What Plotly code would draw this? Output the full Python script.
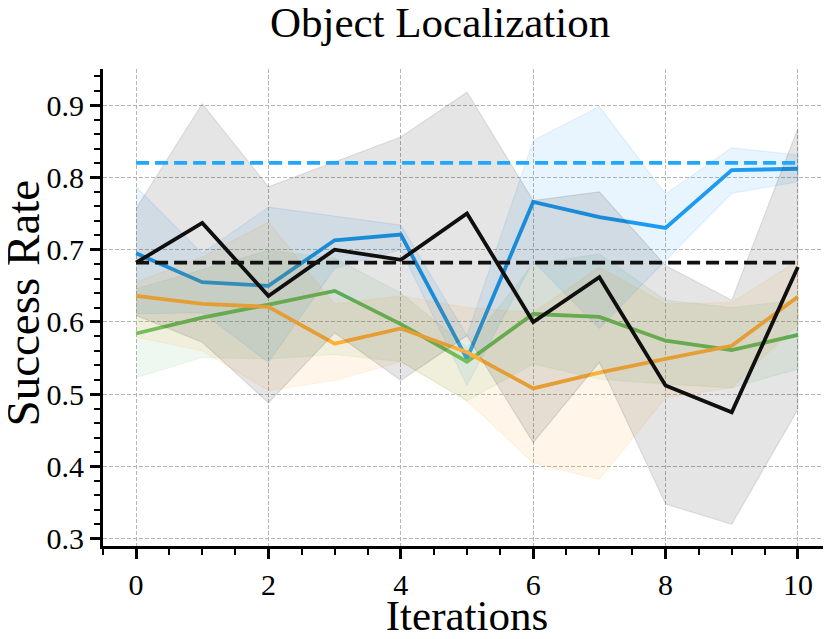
import plotly.graph_objects as go

iterations = list(range(11))

blue_mean = [0.695, 0.655, 0.650, 0.713, 0.721, 0.549, 0.766, 0.745, 0.730, 0.810, 0.812]
blue_upper = [0.787, 0.695, 0.759, 0.747, 0.734, 0.581, 0.851, 0.898, 0.777, 0.841, 0.831]
blue_lower = [0.611, 0.613, 0.544, 0.674, 0.700, 0.512, 0.684, 0.591, 0.685, 0.778, 0.794]

green_mean = [0.584, 0.606, 0.624, 0.643, 0.597, 0.545, 0.611, 0.607, 0.574, 0.561, 0.582]
green_upper = [0.646, 0.672, 0.699, 0.688, 0.640, 0.565, 0.680, 0.694, 0.630, 0.620, 0.630]
green_lower = [0.523, 0.551, 0.549, 0.555, 0.545, 0.491, 0.542, 0.521, 0.514, 0.509, 0.535]

orange_mean = [0.636, 0.625, 0.621, 0.570, 0.591, 0.558, 0.508, 0.530, 0.549, 0.567, 0.635]
orange_upper = [0.655, 0.690, 0.738, 0.625, 0.636, 0.620, 0.613, 0.676, 0.625, 0.627, 0.685]
orange_lower = [0.579, 0.560, 0.505, 0.519, 0.545, 0.491, 0.405, 0.382, 0.495, 0.509, 0.597]

black_mean = [0.682, 0.737, 0.636, 0.700, 0.686, 0.750, 0.600, 0.662, 0.512, 0.475, 0.676]
black_upper = [0.757, 0.902, 0.787, 0.822, 0.856, 0.918, 0.768, 0.780, 0.678, 0.630, 0.868]
black_lower = [0.609, 0.572, 0.488, 0.585, 0.519, 0.581, 0.433, 0.544, 0.348, 0.320, 0.479]

blue_reference = 0.820
black_reference = 0.682

x_ticks = [0, 2, 4, 6, 8, 10]
y_ticks = [0.3, 0.4, 0.5, 0.6, 0.7, 0.8, 0.9]

series = [
    ("blue", blue_mean, blue_lower, blue_upper, "#1E9CF0", (33, 150, 243)),
    ("green", green_mean, green_lower, green_upper, "#66C25E", (102, 187, 106)),
    ("orange", orange_mean, orange_lower, orange_upper, "#FFB23E", (255, 167, 38)),
    ("black", black_mean, black_lower, black_upper, "#111111", (0, 0, 0)),
]

fig = go.Figure()
for name, mean, lo, hi, col, rgb in series:
    fig.add_trace(go.Scatter(x=iterations, y=mean, mode="lines",
                             line=dict(color=col, width=3.8), name=name))
    rgba = "rgba(%d,%d,%d,0.1)" % rgb
    fig.add_trace(go.Scatter(x=iterations + iterations[::-1], y=hi + lo[::-1],
                             mode="lines", fill="toself", fillcolor=rgba,
                             line=dict(color=rgba, width=1.2), hoverinfo="skip"))

fig.add_trace(go.Scatter(x=[iterations[0], iterations[-1]], y=[blue_reference] * 2, mode="lines",
                         line=dict(color="#22A7FF", width=3.8, dash="13px,6px")))
fig.add_trace(go.Scatter(x=[iterations[0], iterations[-1]], y=[black_reference] * 2, mode="lines",
                         line=dict(color="#111111", width=3.8, dash="13px,6px")))

font = "Liberation Serif"
# the page body adds an 8px offset, so the figure is sized to the visible area
W, H = 823, 631
fig.update_layout(
    width=W, height=H,
    margin=dict(l=95, r=0, t=61, b=93),
    plot_bgcolor="white", paper_bgcolor="white",
    showlegend=False,
    font=dict(family=font, color="black"),
    title=dict(text="Object Localization", font=dict(size=43, family=font, color="black"),
               x=0.525, xanchor="center", xref="container",
               y=1 - 14 / H, yref="container", yanchor="middle"),
    annotations=[dict(text="Success Rate", textangle=-90, xref="paper", yref="paper",
                      x=0, y=0.5, xanchor="center", yanchor="middle", xshift=-81, yshift=4,
                      showarrow=False, font=dict(size=47, family=font, color="black"))],
)
common = dict(showline=True, linewidth=3, linecolor="black", ticks="outside",
              ticklen=10, tickwidth=3, tickcolor="black", zeroline=False, automargin=False,
              showgrid=True, gridcolor="#b4b4b4", gridwidth=1, griddash="4px,2px",
              tickfont=dict(size=30, family=font, color="black"))
fig.update_xaxes(range=[-0.5, 10.5], tickvals=x_ticks,
                 minor=dict(dtick=0.5, tick0=0, ticklen=6, tickwidth=2, ticks="outside",
                            tickcolor="black", showgrid=False),
                 title=dict(text="Iterations", font=dict(size=43, family=font), standoff=4),
                 **common)
fig.update_yaxes(range=[0.29, 0.95], tickvals=y_ticks, tickformat=".1f",
                 minor=dict(dtick=0.02, tick0=0.3, ticklen=6, tickwidth=2, ticks="outside",
                            tickcolor="black", showgrid=False),
                 **common)

fig.write_html("out.html")
